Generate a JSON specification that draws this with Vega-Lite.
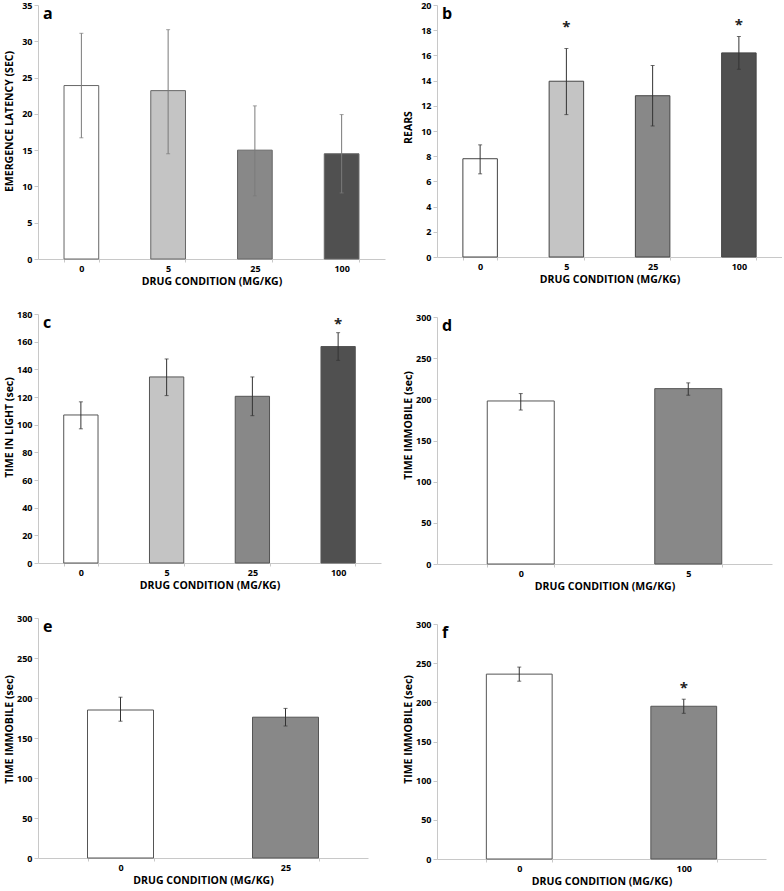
{
  "$schema": "https://vega.github.io/schema/vega-lite/v6.json",
  "background": "white",
  "padding": {"left": 4, "top": 1, "right": 0, "bottom": 0},
  "autosize": {"type": "pad"},
  "datasets": {
    "bars": [
      {"panel": "a", "dose": "0", "mean": 23.9, "lo": 16.7, "hi": 31.1},
      {"panel": "a", "dose": "5", "mean": 23.2, "lo": 14.5, "hi": 31.6},
      {"panel": "a", "dose": "25", "mean": 15.0, "lo": 8.7, "hi": 21.1},
      {"panel": "a", "dose": "100", "mean": 14.5, "lo": 9.1, "hi": 19.9},
      {"panel": "b", "dose": "0", "mean": 7.8, "lo": 6.6, "hi": 8.9},
      {"panel": "b", "dose": "5", "mean": 13.95, "lo": 11.3, "hi": 16.55},
      {"panel": "b", "dose": "25", "mean": 12.8, "lo": 10.4, "hi": 15.2},
      {"panel": "b", "dose": "100", "mean": 16.2, "lo": 14.9, "hi": 17.5},
      {"panel": "c", "dose": "0", "mean": 107, "lo": 97, "hi": 116.5},
      {"panel": "c", "dose": "5", "mean": 134.5, "lo": 121, "hi": 147.5},
      {"panel": "c", "dose": "25", "mean": 120.5, "lo": 106.5, "hi": 134.5},
      {"panel": "c", "dose": "100", "mean": 156.5, "lo": 146.5, "hi": 166.5},
      {"panel": "d", "dose": "0", "mean": 198, "lo": 187, "hi": 207},
      {"panel": "d", "dose": "5", "mean": 213, "lo": 205, "hi": 220},
      {"panel": "e", "dose": "0", "mean": 185, "lo": 171, "hi": 201},
      {"panel": "e", "dose": "25", "mean": 176, "lo": 165, "hi": 187},
      {"panel": "f", "dose": "0", "mean": 236, "lo": 227, "hi": 245},
      {"panel": "f", "dose": "100", "mean": 195, "lo": 186, "hi": 204}
    ],
    "stars": [
      {"panel": "b", "dose": "5", "pos": 18.6, "mark": "*"},
      {"panel": "b", "dose": "100", "pos": 18.7, "mark": "*"},
      {"panel": "c", "dose": "100", "pos": 176, "mark": "*"},
      {"panel": "f", "dose": "100", "pos": 224, "mark": "*"}
    ]
  },
  "resolve": {"scale": {"color": "independent"}},
  "spacing": 18,
  "hconcat": [
    {
      "spacing": 23,
      "resolve": {"scale": {"color": "independent"}},
      "vconcat": [
        {
          "width": 347, "height": 254,
          "title": {"text": "a"},
          "layer": [
            {
              "data": {"name": "bars"},
              "transform": [{"filter": "datum.panel === 'a'"}],
              "mark": {"type": "bar", "stroke": "#666666", "strokeWidth": 1},
              "encoding": {
                "x": {"field": "dose", "type": "ordinal", "sort": ["0", "5", "25", "100"], "scale": {"paddingInner": 0.6, "paddingOuter": 0.3}, "title": "DRUG CONDITION (MG/KG)"},
                "y": {"field": "mean", "type": "quantitative", "scale": {"domain": [0, 35], "nice": false}, "axis": {"values": [0, 5, 10, 15, 20, 25, 30, 35], "titleY": 116}, "title": "EMERGENCE LATENCY (SEC)"},
                "color": {"field": "dose", "type": "nominal", "scale": {"domain": ["0", "5", "25", "100"], "range": ["#ffffff", "#c4c4c4", "#888888", "#505050"]}, "legend": null}
              }
            },
            {
              "data": {"name": "bars"},
              "transform": [{"filter": "datum.panel === 'a'"}],
              "mark": {"type": "errorbar", "color": "#7a7a7a", "ticks": {"size": 4}},
              "encoding": {
                "x": {"field": "dose", "type": "ordinal", "sort": ["0", "5", "25", "100"], "title": "DRUG CONDITION (MG/KG)"},
                "y": {"field": "lo", "type": "quantitative", "axis": {"values": [0, 5, 10, 15, 20, 25, 30, 35], "titleY": 116}, "title": "EMERGENCE LATENCY (SEC)"},
                "y2": {"field": "hi"}
              }
            }
          ]
        },
        {
          "width": 343, "height": 249,
          "title": {"text": "c"},
          "layer": [
            {
              "data": {"name": "bars"},
              "transform": [{"filter": "datum.panel === 'c'"}],
              "mark": {"type": "bar", "stroke": "#555555", "strokeWidth": 1},
              "encoding": {
                "x": {"field": "dose", "type": "ordinal", "sort": ["0", "5", "25", "100"], "scale": {"paddingInner": 0.6, "paddingOuter": 0.3}, "title": "DRUG CONDITION (MG/KG)"},
                "y": {"field": "mean", "type": "quantitative", "scale": {"domain": [0, 180], "nice": false}, "axis": {"values": [0, 20, 40, 60, 80, 100, 120, 140, 160, 180], "titleY": 113}, "title": "TIME IN LIGHT (sec)"},
                "color": {"field": "dose", "type": "nominal", "scale": {"domain": ["0", "5", "25", "100"], "range": ["#ffffff", "#c4c4c4", "#888888", "#505050"]}, "legend": null}
              }
            },
            {
              "data": {"name": "bars"},
              "transform": [{"filter": "datum.panel === 'c'"}],
              "mark": {"type": "errorbar", "color": "#333333", "ticks": {"size": 4}},
              "encoding": {
                "x": {"field": "dose", "type": "ordinal", "sort": ["0", "5", "25", "100"], "title": "DRUG CONDITION (MG/KG)"},
                "y": {"field": "lo", "type": "quantitative", "axis": {"values": [0, 20, 40, 60, 80, 100, 120, 140, 160, 180], "titleY": 113}, "title": "TIME IN LIGHT (sec)"},
                "y2": {"field": "hi"}
              }
            },
            {
              "data": {"name": "stars"},
              "transform": [{"filter": "datum.panel === 'c'"}],
              "mark": {"type": "text", "fontSize": 15, "fontWeight": "bold", "baseline": "middle", "dy": 4, "color": "#222222"},
              "encoding": {
                "x": {"field": "dose", "type": "ordinal", "sort": ["0", "5", "25", "100"], "title": "DRUG CONDITION (MG/KG)"},
                "y": {"field": "pos", "type": "quantitative", "axis": {"values": [0, 20, 40, 60, 80, 100, 120, 140, 160, 180], "titleY": 113}, "title": "TIME IN LIGHT (sec)"},
                "text": {"field": "mark"}
              }
            }
          ]
        },
        {
          "width": 330, "height": 240,
          "title": {"text": "e"},
          "layer": [
            {
              "data": {"name": "bars"},
              "transform": [{"filter": "datum.panel === 'e'"}],
              "mark": {"type": "bar", "stroke": "#555555", "strokeWidth": 1},
              "encoding": {
                "x": {"field": "dose", "type": "ordinal", "sort": ["0", "25"], "scale": {"paddingInner": 0.6, "paddingOuter": 0.3}, "title": "DRUG CONDITION (MG/KG)"},
                "y": {"field": "mean", "type": "quantitative", "scale": {"domain": [0, 300], "nice": false}, "axis": {"values": [0, 50, 100, 150, 200, 250, 300], "titleY": 111}, "title": "TIME IMMOBILE (sec)"},
                "color": {"field": "dose", "type": "nominal", "scale": {"domain": ["0", "25"], "range": ["#ffffff", "#888888"]}, "legend": null}
              }
            },
            {
              "data": {"name": "bars"},
              "transform": [{"filter": "datum.panel === 'e'"}],
              "mark": {"type": "errorbar", "color": "#333333", "ticks": {"size": 4}},
              "encoding": {
                "x": {"field": "dose", "type": "ordinal", "sort": ["0", "25"], "title": "DRUG CONDITION (MG/KG)"},
                "y": {"field": "lo", "type": "quantitative", "axis": {"values": [0, 50, 100, 150, 200, 250, 300], "titleY": 111}, "title": "TIME IMMOBILE (sec)"},
                "y2": {"field": "hi"}
              }
            }
          ]
        }
      ]
    },
    {
      "spacing": 28,
      "resolve": {"scale": {"color": "independent"}},
      "vconcat": [
        {
          "width": 345, "height": 252,
          "title": {"text": "b"},
          "layer": [
            {
              "data": {"name": "bars"},
              "transform": [{"filter": "datum.panel === 'b'"}],
              "mark": {"type": "bar", "stroke": "#444444", "strokeWidth": 1},
              "encoding": {
                "x": {"field": "dose", "type": "ordinal", "sort": ["0", "5", "25", "100"], "scale": {"paddingInner": 0.6, "paddingOuter": 0.3}, "title": "DRUG CONDITION (MG/KG)"},
                "y": {"field": "mean", "type": "quantitative", "scale": {"domain": [0, 20], "nice": false}, "axis": {"values": [0, 2, 4, 6, 8, 10, 12, 14, 16, 18, 20], "titleY": 122}, "title": "REARS"},
                "color": {"field": "dose", "type": "nominal", "scale": {"domain": ["0", "5", "25", "100"], "range": ["#ffffff", "#c4c4c4", "#888888", "#505050"]}, "legend": null}
              }
            },
            {
              "data": {"name": "bars"},
              "transform": [{"filter": "datum.panel === 'b'"}],
              "mark": {"type": "errorbar", "color": "#333333", "ticks": {"size": 4}},
              "encoding": {
                "x": {"field": "dose", "type": "ordinal", "sort": ["0", "5", "25", "100"], "title": "DRUG CONDITION (MG/KG)"},
                "y": {"field": "lo", "type": "quantitative", "axis": {"values": [0, 2, 4, 6, 8, 10, 12, 14, 16, 18, 20], "titleY": 122}, "title": "REARS"},
                "y2": {"field": "hi"}
              }
            },
            {
              "data": {"name": "stars"},
              "transform": [{"filter": "datum.panel === 'b'"}],
              "mark": {"type": "text", "fontSize": 15, "fontWeight": "bold", "baseline": "middle", "dy": 4, "color": "#222222"},
              "encoding": {
                "x": {"field": "dose", "type": "ordinal", "sort": ["0", "5", "25", "100"], "title": "DRUG CONDITION (MG/KG)"},
                "y": {"field": "pos", "type": "quantitative", "axis": {"values": [0, 2, 4, 6, 8, 10, 12, 14, 16, 18, 20], "titleY": 122}, "title": "REARS"},
                "text": {"field": "mark"}
              }
            }
          ]
        },
        {
          "width": 335, "height": 247,
          "title": {"text": "d"},
          "layer": [
            {
              "data": {"name": "bars"},
              "transform": [{"filter": "datum.panel === 'd'"}],
              "mark": {"type": "bar", "stroke": "#555555", "strokeWidth": 1},
              "encoding": {
                "x": {"field": "dose", "type": "ordinal", "sort": ["0", "5"], "scale": {"paddingInner": 0.6, "paddingOuter": 0.3}, "title": "DRUG CONDITION (MG/KG)"},
                "y": {"field": "mean", "type": "quantitative", "scale": {"domain": [0, 300], "nice": false}, "axis": {"values": [0, 50, 100, 150, 200, 250, 300], "titleY": 108}, "title": "TIME IMMOBILE (sec)"},
                "color": {"field": "dose", "type": "nominal", "scale": {"domain": ["0", "5"], "range": ["#ffffff", "#888888"]}, "legend": null}
              }
            },
            {
              "data": {"name": "bars"},
              "transform": [{"filter": "datum.panel === 'd'"}],
              "mark": {"type": "errorbar", "color": "#333333", "ticks": {"size": 4}},
              "encoding": {
                "x": {"field": "dose", "type": "ordinal", "sort": ["0", "5"], "title": "DRUG CONDITION (MG/KG)"},
                "y": {"field": "lo", "type": "quantitative", "axis": {"values": [0, 50, 100, 150, 200, 250, 300], "titleY": 108}, "title": "TIME IMMOBILE (sec)"},
                "y2": {"field": "hi"}
              }
            }
          ]
        },
        {
          "width": 329, "height": 235,
          "title": {"text": "f"},
          "layer": [
            {
              "data": {"name": "bars"},
              "transform": [{"filter": "datum.panel === 'f'"}],
              "mark": {"type": "bar", "stroke": "#555555", "strokeWidth": 1},
              "encoding": {
                "x": {"field": "dose", "type": "ordinal", "sort": ["0", "100"], "scale": {"paddingInner": 0.6, "paddingOuter": 0.3}, "title": "DRUG CONDITION (MG/KG)"},
                "y": {"field": "mean", "type": "quantitative", "scale": {"domain": [0, 300], "nice": false}, "axis": {"values": [0, 50, 100, 150, 200, 250, 300], "titleY": 105}, "title": "TIME IMMOBILE (sec)"},
                "color": {"field": "dose", "type": "nominal", "scale": {"domain": ["0", "100"], "range": ["#ffffff", "#888888"]}, "legend": null}
              }
            },
            {
              "data": {"name": "bars"},
              "transform": [{"filter": "datum.panel === 'f'"}],
              "mark": {"type": "errorbar", "color": "#333333", "ticks": {"size": 4}},
              "encoding": {
                "x": {"field": "dose", "type": "ordinal", "sort": ["0", "100"], "title": "DRUG CONDITION (MG/KG)"},
                "y": {"field": "lo", "type": "quantitative", "axis": {"values": [0, 50, 100, 150, 200, 250, 300], "titleY": 105}, "title": "TIME IMMOBILE (sec)"},
                "y2": {"field": "hi"}
              }
            },
            {
              "data": {"name": "stars"},
              "transform": [{"filter": "datum.panel === 'f'"}],
              "mark": {"type": "text", "fontSize": 15, "fontWeight": "bold", "baseline": "middle", "dy": 4, "color": "#222222"},
              "encoding": {
                "x": {"field": "dose", "type": "ordinal", "sort": ["0", "100"], "title": "DRUG CONDITION (MG/KG)"},
                "y": {"field": "pos", "type": "quantitative", "axis": {"values": [0, 50, 100, 150, 200, 250, 300], "titleY": 105}, "title": "TIME IMMOBILE (sec)"},
                "text": {"field": "mark"}
              }
            }
          ]
        }
      ]
    }
  ],
  "config": {
    "font": "Open Sans",
    "view": {"stroke": null},
    "title": {"anchor": "start", "frame": "group", "offset": -20.5, "dx": 5, "fontSize": 16, "fontWeight": "bold", "font": "Open Sans", "color": "#000000", "baseline": "top"},
    "axis": {"grid": false, "domainColor": "#c8c8c8", "tickColor": "#c8c8c8", "labelFont": "Open Sans", "labelFontWeight": "bold", "labelFontSize": 9, "labelColor": "#000000", "titleFont": "Open Sans", "titleFontWeight": "bold", "titleFontSize": 10.5, "titleColor": "#000000", "labelOverlap": false},
    "axisX": {"labelAngle": 0, "tickBand": "extent", "tickSize": 3, "labelPadding": 2, "titlePadding": 3, "titleFontSize": 10.5},
    "axisY": {"tickSize": 4, "labelPadding": 2, "minExtent": 22, "maxExtent": 22, "titlePadding": 1.5}
  }
}
